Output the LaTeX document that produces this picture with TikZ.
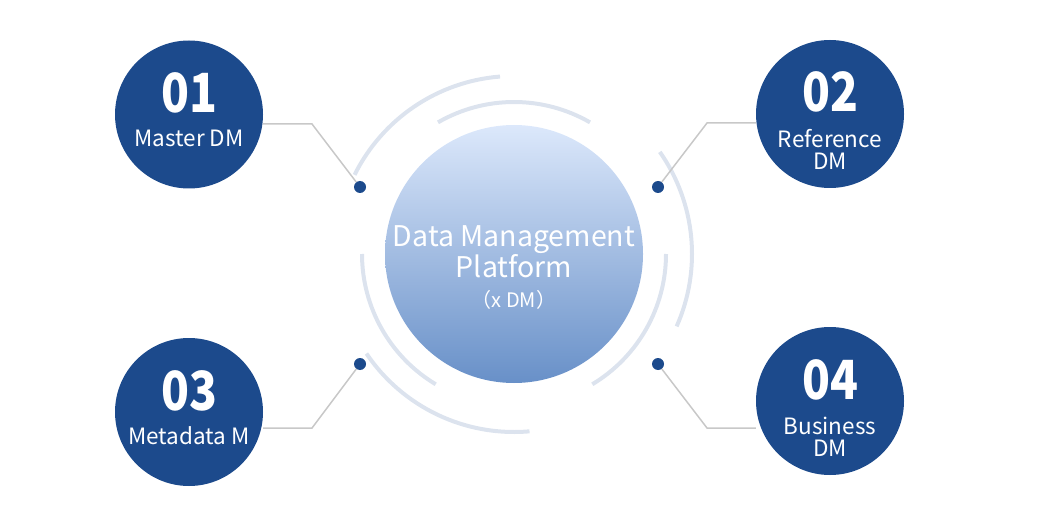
\documentclass[tikz,border=0pt]{standalone}
\usepackage{fontspec}
\setmainfont{Noto Sans CJK KR}
\usetikzlibrary{positioning,calc}

\definecolor{dmblue}{HTML}{1C4A8C}
\definecolor{hubtop}{HTML}{DCE8FB}
\definecolor{hubbottom}{HTML}{6890C8}
\definecolor{ringgray}{HTML}{DCE3EE}
\definecolor{leadgray}{HTML}{C8C8C8}

\tikzset{
  dmcircle/.style={circle, fill=dmblue, minimum size=148pt, inner sep=0pt},
  dmnum/.style={text=white, inner sep=0pt, anchor=base, xscale=0.85,
    font=\fontsize{54}{54}\selectfont\bfseries},
  dmlabel/.style={text=white, inner sep=0pt, anchor=base, align=center,
    font=\fontsize{22.5}{22}\selectfont},
  dmdot/.style={circle, fill=dmblue, minimum size=12pt, inner sep=0pt},
  dmhub/.style={circle, minimum size=258pt, inner sep=0pt,
    top color=hubtop, bottom color=hubbottom, draw=none},
  ring/.style={line width=4pt, ringgray},
  lead/.style={line width=1.5pt, leadgray},
}

\begin{document}
\begin{tikzpicture}[x=1pt, y=1pt]
    \useasboundingbox (0,0) rectangle (1041,512);
    % centre
    \node[dmhub] (hub) at (514,258) {};
    \node[text=white, inner sep=0pt, anchor=base, align=center,
      font=\fontsize{28.5}{32}\selectfont] (hubname) at ([yshift=-24]hub.center) {Data Management\\Platform};
    \node[text=white, inner sep=0pt, anchor=base,
      font=\fontsize{20}{20}\selectfont] (hubsub) at ([yshift=-53]hub.center) {（x DM）};
    % rings
    \draw[ring] ($(hub.center)+(60:152)$) arc[start angle=60, end angle=120, radius=152];
    \draw[ring] ($(hub.center)+(180:152)$) arc[start angle=180, end angle=239, radius=152];
    \draw[ring] ($(hub.center)+(-59:152)$) arc[start angle=-59, end angle=0, radius=152];
    \draw[ring] ($(hub.center)+(94.5:178)$) arc[start angle=94.5, end angle=153.6, radius=178];
    \draw[ring] ($(hub.center)+(214:178)$) arc[start angle=214, end angle=275, radius=178];
    \draw[ring] ($(hub.center)+(-24:178)$) arc[start angle=-24, end angle=35, radius=178];
    % outer circles
    \node[dmcircle] (c01) at (189,397.5) {};
    \node[dmcircle] (c02) at (830,398) {};
    \node[dmcircle] (c03) at (189,100) {};
    \node[dmcircle] (c04) at (830,111) {};
    \node[dmnum] (n01) at ([yshift=2]c01.center) {01};
    \node[dmnum] (n02) at ([yshift=2]c02.center) {02};
    \node[dmnum] (n03) at ([yshift=2]c03.center) {03};
    \node[dmnum] (n04) at ([yshift=2]c04.center) {04};
    \node[dmlabel] (l01) at ([yshift=-32]c01.center) {Master DM};
    \node[dmlabel] (l02) at ([yshift=-56]c02.center) {Reference\\DM};
    \node[dmlabel] (l03) at ([yshift=-32]c03.center) {Metadata M};
    \node[dmlabel] (l04) at ([yshift=-55]c04.center) {Business\\DM};
    % dots and leads
    \node[dmdot] (d01) at (360,325) {};
    \node[dmdot] (d02) at (658,325) {};
    \node[dmdot] (d03) at (360,148) {};
    \node[dmdot] (d04) at (658,148) {};
    \coordinate (k01) at (312,388);
    \coordinate (k02) at (707,389);
    \coordinate (k03) at (312,84);
    \coordinate (k04) at (707,84);
    \draw[lead] (d01) -- (k01) -- (k01 -| c01.east);
    \draw[lead] (d02) -- (k02) -- (k02 -| c02.west);
    \draw[lead] (d03) -- (k03) -- (k03 -| c03.east);
    \draw[lead] (d04) -- (k04) -- (k04 -| c04.west);
\end{tikzpicture}
\end{document}
